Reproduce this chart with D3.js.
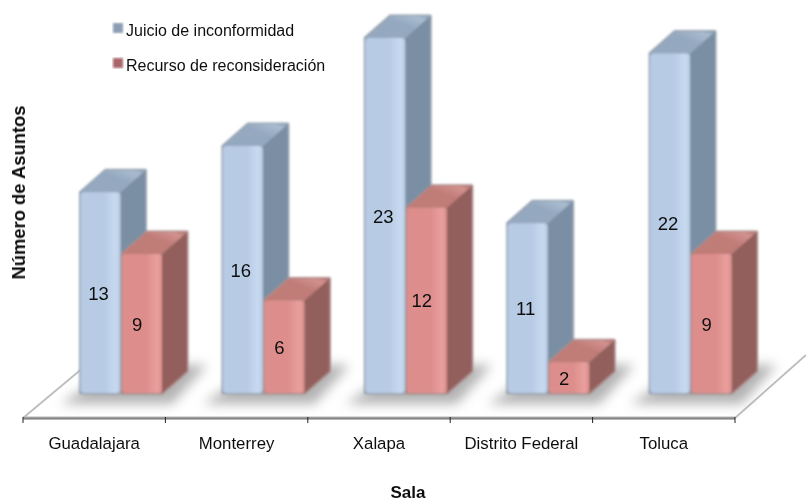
<!DOCTYPE html>
<html><head><meta charset="utf-8">
<script src="https://cdn.jsdelivr.net/npm/d3@7"></script>
<style>html,body{margin:0;padding:0;background:#fff}svg{display:block}text{font-family:"Liberation Sans",Arial,sans-serif;fill:#111}</style>
</head><body><svg id="c" width="806" height="501"></svg>
<script>
const categories = ["Guadalajara","Monterrey","Xalapa","Distrito Federal","Toluca"];
const seriesNames = ["Juicio de inconformidad","Recurso de reconsideración"];
const juicio = [13,16,23,11,22];
const recurso = [9,6,12,2,9];
const values = [juicio, recurso];
const axisTitleX = "Sala", axisTitleY = "Número de Asuntos";

const colors = [
 {front:"#b7cbe5",light:"#c8daf0",pale:"#d6e4f3",top:"#94a8c0",topLight:"#aabccf",side:"#7a8fa4",edge:"#98a3b0"},
 {front:"#dd8e8c",light:"#e9a09e",pale:"#efb3ae",top:"#c07b77",topLight:"#d2928e",side:"#935f5c",edge:"#ac8d8b"}
];
const svg = d3.select("#c");
const defs = svg.append("defs");
const fb=defs.append("filter").attr("id","blur").attr("x","-30%").attr("y","-60%").attr("width","160%").attr("height","220%");
fb.append("feGaussianBlur").attr("stdDeviation",6);
const fs=defs.append("filter").attr("id","soft").attr("x","-10%").attr("y","-10%").attr("width","120%").attr("height","120%");
fs.append("feGaussianBlur").attr("stdDeviation",0.8);
const ft=defs.append("filter").attr("id","txt");
ft.append("feGaussianBlur").attr("stdDeviation",0.3);
const fh=defs.append("filter").attr("id","hl").attr("x","-30%").attr("y","-200%").attr("width","160%").attr("height","500%");
fh.append("feGaussianBlur").attr("stdDeviation",1.3);
colors.forEach((c,i)=>{
  const g=defs.append("linearGradient").attr("id","f"+i).attr("x1",0).attr("x2",1).attr("y1",0).attr("y2",0);
  g.append("stop").attr("offset",0).attr("stop-color",c.front);
  g.append("stop").attr("offset",.6).attr("stop-color",c.front);
  g.append("stop").attr("offset",.88).attr("stop-color",c.light);
  g.append("stop").attr("offset",1).attr("stop-color",c.front);
  const t=defs.append("linearGradient").attr("id","t"+i).attr("x1",0).attr("x2",1).attr("y1",.9).attr("y2",.1);
  t.append("stop").attr("offset",0).attr("stop-color",c.top);
  t.append("stop").attr("offset",.6).attr("stop-color",c.top);
  t.append("stop").attr("offset",.9).attr("stop-color",c.topLight);
  t.append("stop").attr("offset",1).attr("stop-color",c.top);
});
const ag=defs.append("linearGradient").attr("id","ax").attr("x1",0).attr("x2",0).attr("y1",0).attr("y2",1);
ag.append("stop").attr("offset",0).attr("stop-color","#b5b5b5");
ag.append("stop").attr("offset",1).attr("stop-color","#6e6e6e");

const x0 = d3.scaleBand().domain(categories).range([23,735]);
const x1 = d3.scaleBand().domain([0,1]).range([57.5,139]).paddingInner(0.04);
const y = d3.scaleLinear().domain([0,23]).range([393,38]);
const dx = 25, dy = -22, axisY = 418;

// floor edges
const floor = svg.append("g").attr("fill","none").attr("stroke","#bdbdbd").attr("stroke-width",1.8);
floor.append("path").attr("d",d3.line()([[23,axisY],[84,367]]));
floor.append("path").attr("d",d3.line()([[735,axisY],[806,355]]));

// axis
const axisG = svg.append("g").attr("transform",`translate(0,${axisY})`);
axisG.append("rect").attr("x",23).attr("width",712).attr("y",-1.5).attr("height",3).attr("fill","url(#ax)");
const tickPos = categories.map(c=>x0(c)).concat([x0.range()[1]]);
axisG.selectAll("line.t").data(tickPos).join("line").attr("class","t")
  .attr("x1",d=>d).attr("x2",d=>d).attr("y1",-1).attr("y2",5).attr("stroke","#222").attr("stroke-width",1);
axisG.selectAll("text").data(categories).join("text")
  .attr("x",c=>x0(c)+x0.bandwidth()/2).attr("y",31)
  .attr("text-anchor","middle").attr("font-size",16.8).attr("filter","url(#txt)").text(c=>c);

const plot = svg.append("g");
// shadows
categories.forEach(c=>{
  const xa=x0(c)+x1(0), xb=x0(c)+x1(1)+x1.bandwidth();
  plot.append("path").attr("filter","url(#blur)").attr("fill","#a6a6a6").attr("opacity",.85)
    .attr("d",`M${xa-20},${y(0)+11}L${xb+10},${y(0)+11}L${xb+dx+20},${y(0)-28}L${xa+40},${y(0)-28}Z`);
});

function bar(g,x,w,top,base,i){
  const c=colors[i];
  const sil=`M${x},${top}L${x+dx},${top+dy}L${x+w+dx},${top+dy}L${x+w+dx},${base+dy}L${x+w},${base}L${x},${base}Z`;
  g.append("path").attr("fill",c.edge).attr("stroke",c.edge).attr("stroke-width",3).attr("stroke-linejoin","round").attr("d",sil);
  g.append("path").attr("fill",c.side)
    .attr("d",`M${x+w},${top}L${x+w+dx},${top+dy}L${x+w+dx},${base+dy}L${x+w},${base}Z`);
  g.append("path").attr("fill",`url(#t${i})`)
    .attr("d",`M${x},${top}L${x+dx},${top+dy}L${x+w+dx},${top+dy}L${x+w},${top}Z`);
  g.append("rect").attr("x",x).attr("y",top).attr("width",w).attr("height",base-top).attr("rx",4)
    .attr("fill",`url(#f${i})`);
  g.append("line").attr("x1",x+5).attr("x2",x+w-3).attr("y1",top+3).attr("y2",top+3)
    .attr("stroke",c.pale).attr("stroke-width",2.5).attr("filter","url(#hl)");
}
categories.forEach((c,ci)=>{
  const g=plot.append("g").attr("filter","url(#soft)");
  values.forEach((vals,i)=>bar(g,x0(c)+x1(i),x1.bandwidth(),y(vals[ci]),y(0),i));
});
// value labels
const labelShift=[-2,-5];
categories.forEach((c,ci)=>{
  values.forEach((vals,i)=>{
    plot.append("text").attr("x",x0(c)+x1(i)+x1.bandwidth()/2+labelShift[i]).attr("y",(y(vals[ci])+y(0))/2+7)
      .attr("text-anchor","middle").attr("font-size",18.5).attr("filter","url(#txt)").text(vals[ci]);
  });
});

// legend
const leg = svg.append("g");
seriesNames.forEach((s,i)=>{
  const ly=[28,63][i];
  leg.append("rect").attr("x",113).attr("y",ly-5).attr("width",10).attr("height",10)
    .attr("fill",i?"#a9666a":"#8d9db3").attr("filter","url(#soft)");
  leg.append("text").attr("x",126).attr("y",ly+8).attr("font-size",16).attr("filter","url(#txt)").text(s);
});
// titles
svg.append("text").attr("x",408).attr("y",498).attr("text-anchor","middle").attr("font-size",17).attr("font-weight","bold").attr("filter","url(#txt)").text(axisTitleX);
svg.append("text").attr("transform","translate(25,192.5) rotate(-90)").attr("text-anchor","middle").attr("font-size",18.4).attr("font-weight","bold").attr("filter","url(#txt)").text(axisTitleY);
</script></body></html>
